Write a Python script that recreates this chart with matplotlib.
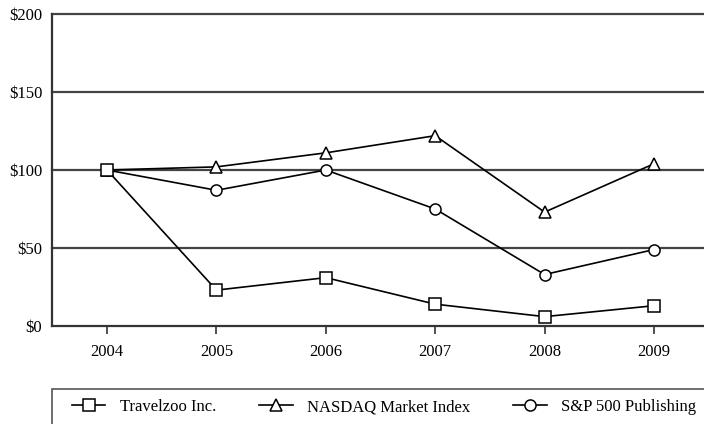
import matplotlib.pyplot as plt
from matplotlib.patches import Rectangle

years = ['2004', '2005', '2006', '2007', '2008', '2009']
travelzoo = [100, 23, 31, 14, 6, 13]
nasdaq = [100, 102, 111, 122, 73, 104]
sp500_pub = [100, 87, 100, 75, 33, 49]
y_ticks = [0, 50, 100, 150, 200]
y_labels = ['$0', '$50', '$100', '$150', '$200']

plt.rcParams['font.family'] = ['Liberation Serif', 'DejaVu Serif']
plt.rcParams['font.size'] = 12

fig = plt.figure(figsize=(7.04, 4.24), dpi=100)
ax = fig.add_axes([52 / 704, 1 - 326 / 424, 1 - 52 / 704, (326 - 14) / 424])

x = range(len(years))
style = dict(color='black', linewidth=1.2, markersize=8, markerfacecolor='white',
             markeredgecolor='black', markeredgewidth=1.1, clip_on=False)
ax.plot(x, sp500_pub, marker='o', label='S&P 500 Publishing', zorder=3, **style)
ax.plot(x, nasdaq, marker='^', label='NASDAQ Market Index', zorder=4, **style)
ax.plot(x, travelzoo, marker='s', label='Travelzoo Inc.', zorder=5, **style)

ax.set_xlim(-0.503, 5.457)
ax.set_ylim(0, 200)
ax.set_xticks(list(x))
ax.set_xticklabels(years)
ax.set_yticks(y_ticks)
ax.set_yticklabels(y_labels)
ax.tick_params(axis='y', length=0, pad=7)
ax.tick_params(axis='x', length=6, width=1.2, pad=7, color='#333333')

for v in y_ticks[1:]:
    ax.axhline(v, color='#444444', linewidth=1.6, zorder=1, clip_on=False)

for side in ['top', 'right']:
    ax.spines[side].set_visible(False)
for side in ['left', 'bottom']:
    ax.spines[side].set_color('#333333')
    ax.spines[side].set_linewidth(1.6)

# legend box runs off the right and bottom edges
fig.patches.append(Rectangle((52 / 704, -0.05), 1.0, 0.05 + (424 - 389) / 424,
                             transform=fig.transFigure, fill=False,
                             edgecolor='#555555', linewidth=1.2))
handles, labels = ax.get_legend_handles_labels()
fig.legend(handles[::-1], labels[::-1], loc='center left',
           bbox_to_anchor=(72 / 704, 1 - 407 / 424), ncol=3,
           frameon=False, handlelength=2.0, handletextpad=0.85, columnspacing=2.6,
           borderpad=0, borderaxespad=0)

fig.savefig('out.png', dpi=100)
